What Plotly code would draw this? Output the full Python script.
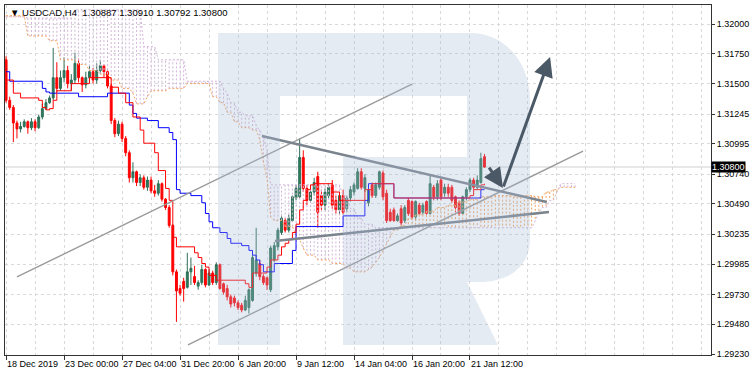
import numpy as np
import plotly.graph_objects as go

# ---------------- data ----------------
x_tick_idx = [0, 16, 32, 48, 64, 80, 96, 112, 128]
x_tick_text = ["18 Dec 2019", "23 Dec 00:00", "27 Dec 04:00", "31 Dec 20:00", "6 Jan 20:00",
               "9 Jan 12:00", "14 Jan 04:00", "16 Jan 20:00", "21 Jan 12:00"]
y_tick_vals = [1.32000, 1.31750, 1.31500, 1.31245, 1.30995, 1.30740, 1.30490,
               1.30235, 1.29985, 1.29730, 1.29480, 1.29230]

open_ = [1.3170, 1.3136, 1.3130, 1.3117, 1.3112, 1.3114, 1.3118, 1.3113, 1.3118, 1.3113,
         1.3122, 1.3129, 1.3134, 1.3138, 1.3155, 1.3146, 1.3155, 1.3161, 1.3150, 1.3153,
         1.3167, 1.3155, 1.3149, 1.3155, 1.3160, 1.3153, 1.3161, 1.3165, 1.3160, 1.3148,
         1.3119, 1.3108, 1.3116, 1.3104, 1.3092, 1.3071, 1.3076, 1.3067, 1.3071, 1.3063,
         1.3069, 1.3060, 1.3058, 1.3066, 1.3053, 1.3046, 1.3031, 1.2992, 1.2978, 1.2984,
         1.2979, 1.2992, 1.2988, 1.2980, 1.2983, 1.2994, 1.2981, 1.2991, 1.2983, 1.2998,
         1.2982, 1.2978, 1.2971, 1.2970, 1.2966, 1.2964, 1.2960, 1.2962, 1.2968, 1.2991,
         1.2999, 1.2988, 1.2987, 1.2977, 1.3002, 1.3013, 1.3025, 1.3035, 1.3027, 1.3035,
         1.3054, 1.3055, 1.3088, 1.3062, 1.3052, 1.3059, 1.3072, 1.3056, 1.3048, 1.3056,
         1.3065, 1.3052, 1.3044, 1.3056, 1.3045, 1.3054, 1.3059, 1.3062, 1.3076, 1.3062,
         1.3050, 1.3065, 1.3056, 1.3063, 1.3075, 1.3058, 1.3042, 1.3044, 1.3035, 1.3045,
         1.3035, 1.3052, 1.3051, 1.3038, 1.3048, 1.3042, 1.3051, 1.3041, 1.3063, 1.3055,
         1.3069, 1.3058, 1.3063, 1.3063, 1.3055, 1.3050, 1.3041, 1.3055, 1.3061, 1.3069,
         1.3063, 1.3067, 1.30887]
high = [1.3173, 1.3139, 1.3132, 1.3119, 1.3118, 1.3120, 1.3119, 1.3121, 1.3120, 1.3124,
        1.3133, 1.3137, 1.3140, 1.3180, 1.3168, 1.3161, 1.3172, 1.3165, 1.3158, 1.3176,
        1.3171, 1.3156, 1.3160, 1.3165, 1.3163, 1.3167, 1.3170, 1.3166, 1.3161, 1.3150,
        1.3121, 1.3119, 1.3118, 1.3106, 1.3094, 1.3084, 1.3077, 1.3074, 1.3073, 1.3072,
        1.3072, 1.3065, 1.3069, 1.3067, 1.3054, 1.3048, 1.3032, 1.2994, 1.2981, 1.2987,
        1.3008, 1.3004, 1.2997, 1.2985, 1.2998, 1.2995, 1.2994, 1.2993, 1.3000, 1.2999,
        1.2983, 1.2981, 1.2973, 1.2972, 1.2968, 1.2966, 1.2972, 1.2978, 1.3006, 1.3029,
        1.3002, 1.2990, 1.2988, 1.3014, 1.3017, 1.3029, 1.3040, 1.3037, 1.3040, 1.3056,
        1.3065, 1.3104, 1.3094, 1.3065, 1.3062, 1.3071, 1.3076, 1.3061, 1.3062, 1.3066,
        1.3069, 1.3056, 1.3059, 1.3061, 1.3056, 1.3064, 1.3067, 1.3079, 1.3079, 1.3074,
        1.3064, 1.3067, 1.3067, 1.3077, 1.3077, 1.3061, 1.3045, 1.3046, 1.3041, 1.3048,
        1.3048, 1.3054, 1.3052, 1.3052, 1.3050, 1.3050, 1.3052, 1.3073, 1.3065, 1.3069,
        1.3071, 1.3066, 1.3066, 1.3065, 1.3056, 1.3052, 1.3056, 1.3063, 1.3071, 1.3071,
        1.3073, 1.3092, 1.30910]
low = [1.3134, 1.3128, 1.3101, 1.3104, 1.3109, 1.3113, 1.3108, 1.3111, 1.3110, 1.3112,
       1.3120, 1.3128, 1.3133, 1.3136, 1.3143, 1.3144, 1.3151, 1.3146, 1.3144, 1.3150,
       1.3151, 1.3143, 1.3146, 1.3151, 1.3150, 1.3150, 1.3158, 1.3155, 1.3146, 1.3116,
       1.3105, 1.3106, 1.3101, 1.3089, 1.3067, 1.3067, 1.3064, 1.3064, 1.3061, 1.3060,
       1.3058, 1.3055, 1.3056, 1.3051, 1.3044, 1.3029, 1.2989, 1.2950, 1.2972, 1.2967,
       1.2978, 1.2981, 1.2981, 1.2977, 1.2981, 1.2979, 1.2980, 1.2981, 1.2981, 1.2977,
       1.2973, 1.2968, 1.2962, 1.2963, 1.2960, 1.2958, 1.2959, 1.2957, 1.2967, 1.2988,
       1.2985, 1.2981, 1.2977, 1.2975, 1.3000, 1.3010, 1.3023, 1.3025, 1.3025, 1.3034,
       1.3052, 1.3054, 1.3059, 1.3048, 1.3050, 1.3056, 1.3029, 1.3044, 1.3044, 1.3054,
       1.3045, 1.3041, 1.3040, 1.3040, 1.3042, 1.3051, 1.3056, 1.3061, 1.3061, 1.3059,
       1.3047, 1.3054, 1.3054, 1.3061, 1.3052, 1.3033, 1.3034, 1.3034, 1.3034, 1.3031,
       1.3033, 1.3039, 1.3036, 1.3035, 1.3040, 1.3040, 1.3040, 1.3040, 1.3052, 1.3052,
       1.3052, 1.3055, 1.3055, 1.3050, 1.3042, 1.3039, 1.3040, 1.3052, 1.3059, 1.3061,
       1.3061, 1.3066, 1.30792]
close = [1.3136, 1.3130, 1.3117, 1.3112, 1.3114, 1.3118, 1.3113, 1.3118, 1.3113, 1.3122,
         1.3129, 1.3134, 1.3138, 1.3155, 1.3146, 1.3155, 1.3161, 1.3150, 1.3153, 1.3167,
         1.3155, 1.3149, 1.3155, 1.3160, 1.3153, 1.3161, 1.3165, 1.3160, 1.3148, 1.3119,
         1.3108, 1.3116, 1.3104, 1.3092, 1.3071, 1.3076, 1.3067, 1.3071, 1.3063, 1.3069,
         1.3060, 1.3058, 1.3066, 1.3053, 1.3046, 1.3031, 1.2992, 1.2976, 1.2974, 1.2978,
         1.2992, 1.2995, 1.2983, 1.2983, 1.2994, 1.2981, 1.2991, 1.2983, 1.2998, 1.2978,
         1.2975, 1.2971, 1.2965, 1.2966, 1.2962, 1.2960, 1.2968, 1.2977, 1.3004, 1.3002,
         1.2988, 1.2983, 1.2981, 1.3012, 1.3014, 1.3027, 1.3037, 1.3027, 1.3037, 1.3055,
         1.3062, 1.3088, 1.3062, 1.3052, 1.3059, 1.3067, 1.3042, 1.3048, 1.3059, 1.3063,
         1.3048, 1.3044, 1.3056, 1.3042, 1.3054, 1.3061, 1.3065, 1.3076, 1.3063, 1.3071,
         1.3061, 1.3056, 1.3065, 1.3076, 1.3055, 1.3035, 1.3035, 1.3035, 1.3039, 1.3033,
         1.3046, 1.3041, 1.3038, 1.3051, 1.3041, 1.3048, 1.3041, 1.3066, 1.3055, 1.3066,
         1.3055, 1.3063, 1.3058, 1.3052, 1.3046, 1.3041, 1.3055, 1.3061, 1.3069, 1.3063,
         1.3069, 1.3087, 1.30800]

# Tenkan-sen (red) and Kijun-sen (blue): step breakpoints (bar index, price)
tenkan_idx = [0, 2, 4, 9, 10, 11, 12, 13, 14, 18, 23, 29, 31, 33, 35, 37, 38, 41, 42, 44, 45, 46,
              47, 52, 53, 54, 55, 56, 58, 66, 67, 68, 72, 73, 75, 76, 77, 78, 79, 80, 81, 82,
              83, 84, 85, 90, 92, 99, 101, 107, 128, 129, 131, 132]
tenkan_val = [1.3153, 1.3142, 1.3138, 1.3136, 1.3130, 1.3128, 1.3129, 1.3136, 1.3144, 1.3150,
              1.3155, 1.3147, 1.3142, 1.3134, 1.3122, 1.3111, 1.3100, 1.3092, 1.3077, 1.3062,
              1.3052, 1.3021, 1.3013, 1.3008, 1.3004, 1.2999, 1.2996, 1.2989, 1.2985, 1.2982,
              1.2979, 1.2991, 1.2996, 1.3002, 1.3006, 1.3013, 1.3016, 1.3019, 1.3025, 1.3032,
              1.3044, 1.3052, 1.3061, 1.3065, 1.3066, 1.3059, 1.3052, 1.3061, 1.3066, 1.3054,
              1.3056, 1.3061, 1.3065, 1.3066]
kijun_idx = [0, 1, 10, 11, 12, 20, 28, 34, 35, 36, 39, 42, 45, 46, 47, 48, 51, 54, 55, 56, 57,
             59, 61, 62, 65, 67, 68, 69, 70, 71, 74, 79, 80, 93, 99, 100, 107, 131, 132]
kijun_val = [1.3160, 1.3152, 1.3146, 1.3143, 1.3142, 1.3139, 1.3142, 1.3132, 1.3125, 1.3121,
             1.3119, 1.3113, 1.3109, 1.3103, 1.3061, 1.3058, 1.3056, 1.3050, 1.3041, 1.3034,
             1.3029, 1.3025, 1.3020, 1.3016, 1.3014, 1.3010, 1.3006, 1.3002, 1.2998, 1.2992,
             1.2999, 1.3010, 1.3030, 1.3039, 1.3052, 1.3066, 1.3054, 1.3061, 1.3061]

# Senkou span A (sandy brown) and B (thistle), shifted 26 bars ahead: run lengths
span_a_val = [1.3207, 1.3190, 1.3186, 1.3170, 1.3166, 1.3161, 1.3158, 1.3153, 1.3146, 1.3142,
              1.3133, 1.3139, 1.3144, 1.3146, 1.3150, 1.3139, 1.3134, 1.3126, 1.3118, 1.3113,
              1.3111, 1.3103, 1.3084, 1.3071, 1.3038, 1.3035, 1.3030, 1.3023, 1.3019, 1.3012,
              1.3006, 1.3002, 1.2999, 1.2995, 1.2992, 1.2994, 1.2996, 1.3000, 1.3004, 1.3010,
              1.3016, 1.3021, 1.3027, 1.3031, 1.3037, 1.3040, 1.3043, 1.3046, 1.3048, 1.3051,
              1.3053, 1.3055, 1.3056, 1.3055, 1.3056, 1.3055, 1.3059, 1.3061, 1.3063]
span_a_len = [6, 6, 3, 5, 3, 3, 3, 3, 3, 1, 3, 1, 5, 5, 7, 2, 2, 2, 2, 3, 2, 1, 1, 1, 1, 3, 3, 1,
              1, 1, 3, 4, 4, 2, 4, 1, 1, 1, 1, 1, 1, 1, 2, 2, 2, 3, 3, 3, 3, 3, 3, 4, 5, 3, 3, 3,
              2, 2, 5]
span_b_val = [1.3206, 1.3205, 1.3212, 1.3181, 1.3170, 1.3152, 1.3146, 1.3142, 1.3134, 1.3126,
              1.3123, 1.3115, 1.3111, 1.3106, 1.3094, 1.3065, 1.3056, 1.3045, 1.3037, 1.3032,
              1.3029, 1.3035, 1.3042, 1.3046, 1.3052, 1.3059, 1.3066]
span_b_len = [6, 13, 19, 4, 8, 10, 1, 1, 2, 2, 3, 1, 1, 1, 1, 20, 2, 2, 2, 3, 44, 1, 1, 2, 2, 1, 5]

bid_price = 1.30800
title_text = "\u25bc USDCAD,H4  1.30887 1.30910 1.30792 1.30800"

# Drawn objects anchored in (bar index, price)
channel_up_idx, channel_up_px = [3.0, 112.0], [1.29877, 1.31496]
channel_lo_idx, channel_lo_px = [50.2, 159.2], [1.29307, 1.30934]
tri_top_idx, tri_top_px = [70.6, 149.2], [1.31060, 1.30506]
tri_bot_idx, tri_bot_px = [74.2, 149.8], [1.30179, 1.30422]
arrow_dn = [(133.0, 1.30808), (137.1, 1.30624)]
arrow_up = [(137.1, 1.30624), (150.1, 1.31723)]

# ---------------- figure ----------------
FONT = "Liberation Sans, Arial, DejaVu Sans, sans-serif"
fig = go.Figure()

span_a = np.repeat(span_a_val, span_a_len)
span_b = np.repeat(span_b_val, span_b_len)
cloud_idx = np.arange(len(span_a))

# cloud hatch (vertical dotted lines per bar)
for bull, col in [(True, "#f4a460"), (False, "#d2b4d8")]:
    xs, ys = [], []
    for i, a, b in zip(cloud_idx, span_a, span_b):
        if (a >= b) == bull:
            xs += [i, i, None]
            ys += [a, b, None]
    fig.add_trace(go.Scatter(x=xs, y=ys, mode="lines", hoverinfo="skip",
                             line=dict(color=col, width=1, dash="2px,2px")))
fig.add_trace(go.Scatter(x=cloud_idx, y=span_a, mode="lines", hoverinfo="skip",
                         line=dict(color="#f4a460", width=1, dash="2px,2px")))
fig.add_trace(go.Scatter(x=cloud_idx, y=span_b, mode="lines", hoverinfo="skip",
                         line=dict(color="#d2b4d8", width=1, dash="2px,2px")))

fig.add_trace(go.Scatter(x=kijun_idx, y=kijun_val, mode="lines", line_shape="hv",
                         line=dict(color="#0000ff", width=1), hoverinfo="skip"))
fig.add_trace(go.Scatter(x=tenkan_idx, y=tenkan_val, mode="lines", line_shape="hv",
                         line=dict(color="#ff0000", width=1), hoverinfo="skip"))

bars = list(range(len(close)))
fig.add_trace(go.Candlestick(
    x=bars, open=open_, high=high, low=low, close=close, whiskerwidth=0,
    increasing=dict(line=dict(color="#2e6e57", width=1), fillcolor="#2e7d5b"),
    decreasing=dict(line=dict(color="#ff0000", width=1), fillcolor="#ff0000"),
    hoverinfo="skip"))

for xi, yp, col, w in [(channel_up_idx, channel_up_px, "#9a9a9a", 1.4),
                       (channel_lo_idx, channel_lo_px, "#9a9a9a", 1.4),
                       (tri_top_idx, tri_top_px, "#7b848d", 2.5),
                       (tri_bot_idx, tri_bot_px, "#7b848d", 2.5)]:
    fig.add_trace(go.Scatter(x=xi, y=yp, mode="lines", line=dict(color=col, width=w),
                             hoverinfo="skip"))

# pixel -> paper helper for the watermark logo
def pp(x, y):
    return f"{(x - 5) / 706:.4f},{(355 - y) / 350:.4f}"

stem = f"M {pp(218,33)} L {pp(280,33)} L {pp(280,345)} L {pp(218,345)} Z"
bowl = (f"M {pp(280,33)} L {pp(470,33)} C {pp(505,33)} {pp(530,62)} {pp(530,100)} "
        f"L {pp(530,240)} C {pp(530,265)} {pp(510,282)} {pp(480,282)} L {pp(467,282)} "
        f"L {pp(498,345)} L {pp(343,345)} L {pp(343,157)} L {pp(467,157)} L {pp(467,96)} "
        f"L {pp(280,96)} Z")

WM = "rgba(165,185,215,0.29)"
shapes = [
    dict(type="line", xref="paper", x0=0, x1=1, yref="y", y0=bid_price, y1=bid_price,
         line=dict(color="#cfcfcf", width=1), layer="between"),
    dict(type="path", xref="paper", yref="paper", path=stem,
         fillcolor=WM, line=dict(width=0), layer="above"),
    dict(type="path", xref="paper", yref="paper", path=bowl,
         fillcolor=WM, line=dict(width=0), layer="above"),
]

annotations = [
    dict(xref="paper", yref="paper", x=0.004, y=(355 - 12) / 350, xanchor="left",
         yanchor="middle", text=title_text, showarrow=False,
         font=dict(family=FONT, size=9.5, color="#000000")),
    dict(xref="paper", yref="y", x=1.0, y=bid_price, xanchor="left", yanchor="middle",
         text=f"{bid_price:.5f}", showarrow=False, bgcolor="#000000", borderpad=0,
         font=dict(family=FONT, size=9, color="#ffffff")),
]
for (x0, y0), (x1, y1) in [arrow_dn, arrow_up]:
    annotations.append(dict(x=x1, y=y1, ax=x0, ay=y0, xref="x", yref="y", axref="x",
                            ayref="y", showarrow=True, arrowhead=2, arrowsize=1.3,
                            arrowwidth=3, arrowcolor="#4b5967", text="", standoff=0))

minor_idx = [i for i in range(8, 200, 8) if i not in x_tick_idx]

fig.update_layout(
    width=751, height=373, margin=dict(l=5, r=40, t=5, b=18, autoexpand=False),
    paper_bgcolor="white", plot_bgcolor="white", showlegend=False,
    shapes=shapes, annotations=annotations, boxgap=0.25,
    xaxis=dict(range=[-0.3, 194.5], tickmode="array", tickvals=x_tick_idx, ticktext=x_tick_text,
               tickangle=0, automargin=False,
               ticks="outside", ticklen=4, tickcolor="#333333", ticklabelposition="outside right",
               showgrid=True, gridcolor="#d9d9d9", griddash="3px,3px", gridwidth=1,
               showline=True, linecolor="#333333", linewidth=1, mirror=True, zeroline=False,
               rangeslider=dict(visible=False),
               tickfont=dict(family=FONT, size=9, color="#000000"),
               minor=dict(tickvals=minor_idx, showgrid=True, gridcolor="#d9d9d9",
                          griddash="3px,3px", ticks="")),
    yaxis=dict(side="right", range=[1.29222, 1.32160], tickmode="array", tickvals=y_tick_vals,
               automargin=False,
               ticktext=[f"{v:.5f}" for v in y_tick_vals], ticks="outside", ticklen=3,
               tickcolor="#333333", showgrid=True, gridcolor="#d9d9d9", griddash="3px,3px",
               showline=True, linecolor="#333333", linewidth=1, mirror=True, zeroline=False,
               tickfont=dict(family=FONT, size=9, color="#000000")),
)

fig.write_html("out.html", config={"displayModeBar": False})
